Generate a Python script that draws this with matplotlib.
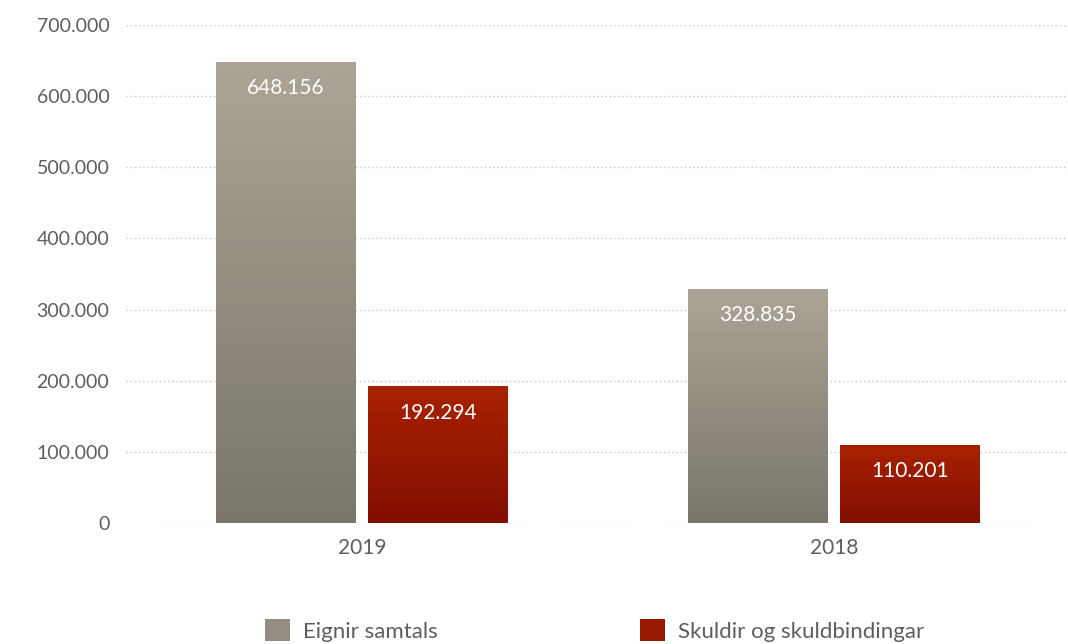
import numpy as np
import matplotlib.pyplot as plt
from matplotlib.colors import LinearSegmentedColormap
from matplotlib.patches import Patch

plt.rcParams['font.family'] = ['Lato', 'DejaVu Sans']

years = ["2019", "2018"]
series = ["Eignir samtals", "Skuldir og skuldbindingar"]
eignir = [648156, 328835]
skuldir = [192294, 110201]
yticks = [0, 100000, 200000, 300000, 400000, 500000, 600000, 700000]

# top / bottom colours of the gradients
grey_top, grey_bot = "#aca497", "#7a766a"
red_top, red_bot = "#a82200", "#820e00"

def fmt(v):
    return f"{v:,}".replace(",", ".")

fig = plt.figure(figsize=(10.68, 6.44), dpi=100)
ax = fig.add_axes([0.118, 0.188, 0.884, 0.773])

x = np.arange(len(years))
w = 0.295
off = 0.161
txt = "#5e5e5e"

grad = np.linspace(0, 1, 256).reshape(-1, 1)

def draw(bars, values, c_top, c_bot):
    cmap = LinearSegmentedColormap.from_list("g", [c_bot, c_top])
    for b, v in zip(bars, values):
        x0, w0, h = b.get_x(), b.get_width(), b.get_height()
        im = ax.imshow(grad, cmap=cmap, aspect="auto", origin="lower",
                       extent=[x0, x0 + w0, 0, h], zorder=3)
        im.set_clip_path(b)
        b.set_facecolor("none")
        ax.annotate(fmt(v), (x0 + w0 / 2, h), xytext=(0, -19),
                    textcoords="offset points", ha="center", va="center",
                    color="white", fontsize=15, zorder=5)

b1 = ax.bar(x - off, eignir, w, color=grey_top, zorder=3, linewidth=0)
b2 = ax.bar(x + off, skuldir, w, color=red_top, zorder=3, linewidth=0)
draw(b1, eignir, grey_top, grey_bot)
draw(b2, skuldir, red_top, red_bot)

ax.set_xlim(-0.5, 1.5)
ax.set_ylim(0, 700000)
ax.set_yticks(yticks)
ax.set_yticklabels([fmt(v) for v in yticks])
ax.set_xticks(x)
ax.set_xticklabels(years)
ax.tick_params(length=0, labelsize=14, colors=txt)
ax.tick_params(axis="y", pad=12)
ax.tick_params(axis="x", pad=11, labelsize=15)
ax.yaxis.grid(True, linestyle=(0, (1, 2)), color="#c8c8c8", linewidth=1)
ax.set_axisbelow(True)
for s in ax.spines.values():
    s.set_visible(False)

handles = [Patch(facecolor="#948e82", label=series[0]),
           Patch(facecolor="#961800", label=series[1])]
fig.legend(handles=handles, loc="center", bbox_to_anchor=(0.557, 0.021),
           ncol=2, frameon=False, fontsize=16, labelcolor=txt,
           handlelength=1.1, handleheight=1.1, columnspacing=9.1,
           handletextpad=0.6)

fig.savefig("out.png", dpi=100)
